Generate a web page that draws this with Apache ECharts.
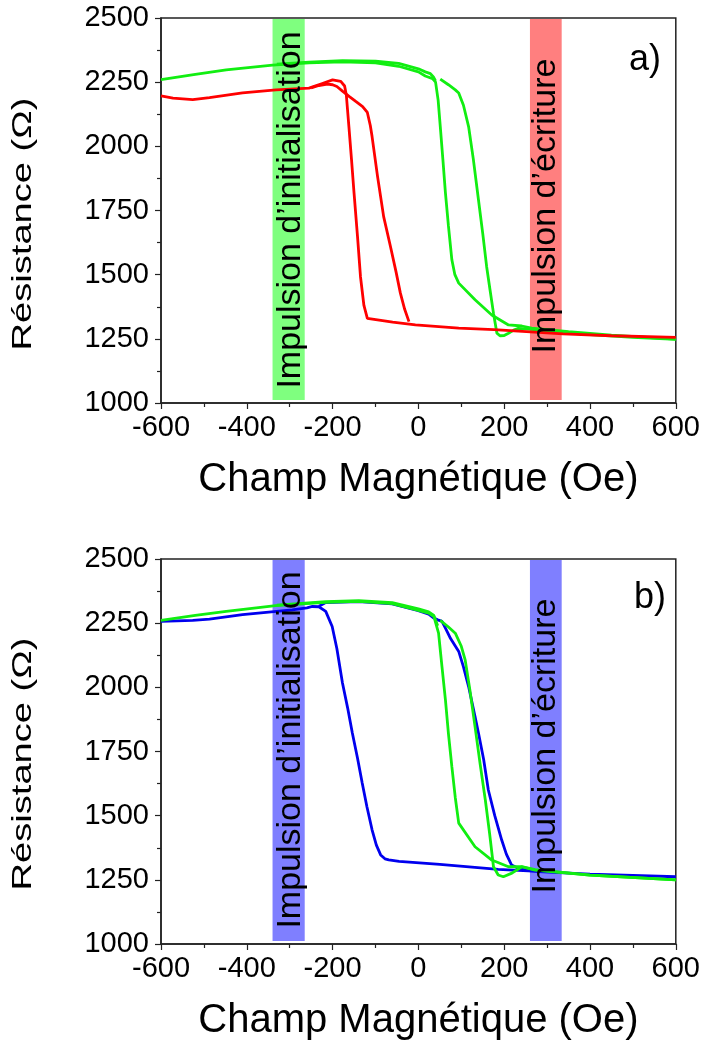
<!DOCTYPE html>
<html>
<head>
<meta charset="utf-8">
<script src="https://cdn.jsdelivr.net/npm/echarts@6/dist/echarts.min.js"></script>
<style>
html,body{margin:0;padding:0;background:#fff;}
#c{width:703px;height:1044px;}
</style>
</head>
<body>
<div id="c"></div>
<script>
// ---- Data (Champ Magnétique in Oe, Résistance in Ohm) ----
const xTicks = [-600, -400, -200, 0, 200, 400, 600];
const yTicks = [1000, 1250, 1500, 1750, 2000, 2250, 2500];

// Panel a)
const aGreen1 = [[-600,2260],[-520,2280],[-448,2298],[-340,2316],[-255,2325],[-177,2329],[-100,2325],[-46,2312],[0,2290],[16,2274],[33,2264],[40,2250],[46,2180],[51,2077],[57,1950],[63,1819],[70,1690],[78,1558],[85,1500],[94,1467],[132,1402],[171,1343],[210,1304],[241,1300],[264,1292],[350,1278],[450,1264],[600,1249]];
const aGreen2 = [[-330,2320],[-255,2328],[-177,2334],[-100,2332],[-46,2323],[0,2302],[16,2290],[28,2283],[35,2270],[40,2255]];
const aGreen3 = [[51,2262],[70,2240],[86,2220],[94,2208],[105,2160],[117,2077],[128,1950],[140,1792],[150,1660],[159,1532],[167,1440],[175,1350],[183,1272],[190,1262],[200,1263],[210,1272],[222,1284],[233,1291],[264,1287],[300,1279],[400,1266],[500,1256],[600,1248]];
const aRed1 = [[-600,2197],[-572,2188],[-526,2182],[-487,2190],[-410,2208],[-332,2220],[-255,2227],[-224,2245],[-200,2259],[-181,2253],[-172,2235],[-168,2200],[-162,2077],[-156,1950],[-150,1818],[-142,1650],[-135,1492],[-127,1380],[-119,1330],[-60,1315],[-7,1304],[94,1292],[176,1286],[337,1269],[450,1262],[600,1256]];
const aRed2 = [[-250,2228],[-232,2237],[-212,2242],[-200,2240],[-190,2233],[-177,2215],[-160,2193],[-146,2175],[-130,2155],[-119,2132],[-112,2080],[-108,2038],[-95,1880],[-81,1726],[-65,1609],[-52,1510],[-42,1428],[-32,1365],[-22,1317]];

// Panel b)
const bBlue1 = [[-600,2257],[-526,2261],[-487,2266],[-410,2283],[-294,2302],[-260,2310],[-247,2315],[-232,2314],[-216,2296],[-201,2237],[-190,2150],[-177,2017],[-165,1920],[-154,1822],[-142,1725],[-131,1627],[-120,1535],[-108,1445],[-98,1385],[-88,1347],[-78,1332],[-69,1328],[-45,1322],[50,1310],[186,1291],[256,1285],[279,1282],[400,1272],[600,1262]];
const bBlue2 = [[-232,2316],[-216,2330],[-139,2334],[-61,2325],[0,2299],[24,2285],[36,2270],[45,2263],[55,2257],[63,2231],[75,2190],[94,2140],[105,2080],[117,2003],[132,1886],[140,1822],[152,1720],[163,1600],[178,1500],[194,1406],[205,1350],[217,1308],[233,1295],[256,1287]];
const bGreen1 = [[-600,2261],[-520,2280],[-448,2296],[-333,2318],[-216,2331],[-139,2335],[-61,2326],[0,2300],[24,2289],[36,2276],[47,2211],[55,2080],[63,1951],[70,1820],[78,1691],[86,1570],[94,1471],[132,1379],[171,1327],[210,1301],[241,1301],[272,1288],[400,1268],[600,1250]];
const bGreen2 = [[-330,2320],[-216,2334],[-139,2338],[-61,2330],[0,2306],[24,2294],[36,2280],[45,2240]];
const bGreen3 = [[51,2261],[70,2235],[86,2211],[100,2160],[109,2107],[120,1990],[132,1847],[144,1700],[156,1561],[166,1430],[175,1301],[186,1269],[198,1262],[218,1276],[241,1301],[272,1290],[400,1268],[600,1250]];

// Pulse bands [xFrom, xTo]
const bandInit = [-340, -265];
const bandWrite = [260, 334];
const bandY = [1012, 2496];

// ---- Styles ----
const FONT = 'Liberation Sans, Arial, sans-serif';
const GREEN = '#11EE11', RED = '#FF0000', BLUE = '#0000EE';

function xAxis(gi){
  return {
    gridIndex: gi, type: 'value', min: -600, max: 600, interval: 200,
    name: 'Champ Magnétique (Oe)', nameLocation: 'middle', nameGap: 57,
    nameTextStyle: {fontFamily: FONT, fontSize: 40, color: '#000'},
    axisLine: {show: true, onZero: false, lineStyle: {color: '#222', width: 1.5}},
    axisTick: {show: true, inside: false, length: 6, lineStyle: {color: '#222', width: 1.2}},
    minorTick: {show: true, splitNumber: 2, length: 4, lineStyle: {color: '#222', width: 1.2}},
    splitLine: {show: false},
    axisLabel: {fontFamily: FONT, fontSize: 29, color: '#000', margin: 10, showMinLabel: true, showMaxLabel: true,
                formatter: v => String(v)}
  };
}
function yAxis(gi){
  return {
    gridIndex: gi, type: 'value', min: 1000, max: 2500, interval: 250,
    axisLine: {show: true, onZero: false, lineStyle: {color: '#222', width: 1.5}},
    axisTick: {show: true, inside: false, length: 6, lineStyle: {color: '#222', width: 1.2}},
    minorTick: {show: true, splitNumber: 2, length: 4, lineStyle: {color: '#222', width: 1.2}},
    splitLine: {show: false},
    axisLabel: {fontFamily: FONT, fontSize: 29, color: '#000', margin: 12, formatter: v => String(v)}
  };
}
function line(gi, data, color){
  return {
    type: 'line', xAxisIndex: gi, yAxisIndex: gi, data: data,
    showSymbol: false, symbol: 'none', smooth: false, z: 2,
    lineStyle: {color: color, width: 2.8}, silent: true
  };
}
function bands(gi, c1, c2){
  return {
    type: 'line', xAxisIndex: gi, yAxisIndex: gi, data: [], z: 4, silent: true,
    markArea: {
      silent: true,
      data: [
        [{xAxis: bandInit[0], yAxis: bandY[0], itemStyle: {color: c1}}, {xAxis: bandInit[1], yAxis: bandY[1]}],
        [{xAxis: bandWrite[0], yAxis: bandY[0], itemStyle: {color: c2}}, {xAxis: bandWrite[1], yAxis: bandY[1]}]
      ]
    }
  };
}
function vtext(x, y, txt, size, sx){
  return {
    type: 'text', x: x, y: y, rotation: Math.PI / 2, scaleX: sx || 1, z: 100,
    style: {text: txt, font: size + 'px ' + FONT, fill: '#000',
            align: 'center', verticalAlign: 'middle', textAlign: 'center', textVerticalAlign: 'middle'}
  };
}
function htext(x, y, txt, size){
  return {
    type: 'text', x: x, y: y, z: 100,
    style: {text: txt, font: size + 'px ' + FONT, fill: '#000',
            align: 'center', verticalAlign: 'middle', textAlign: 'center', textVerticalAlign: 'middle'}
  };
}

const chart = echarts.init(document.getElementById('c'), null, {renderer: 'canvas'});
chart.setOption({
  animation: false,
  backgroundColor: '#fff',
  grid: [
    {left: 161, right: 26, top: 18, height: 385, show: true, borderColor: '#222', borderWidth: 1.5, backgroundColor: 'transparent'},
    {left: 161, right: 26, top: 559, height: 385, show: true, borderColor: '#222', borderWidth: 1.5, backgroundColor: 'transparent'}
  ],
  xAxis: [xAxis(0), xAxis(1)],
  yAxis: [yAxis(0), yAxis(1)],
  series: [
    line(0, aGreen1, GREEN), line(0, aGreen2, GREEN), line(0, aGreen3, GREEN),
    line(0, aRed1, RED), line(0, aRed2, RED),
    bands(0, 'rgba(0,255,0,0.5)', 'rgba(255,0,0,0.5)'),
    line(1, bBlue1, BLUE), line(1, bBlue2, BLUE),
    line(1, bGreen1, GREEN), line(1, bGreen2, GREEN), line(1, bGreen3, GREEN),
    bands(1, 'rgba(0,0,255,0.5)', 'rgba(0,0,255,0.5)')
  ],
  graphic: [
    vtext(23, 224, 'Résistance (Ω)', 28, 1.36),
    vtext(23, 764, 'Résistance (Ω)', 28, 1.36),
    vtext(291, 210, 'Impulsion d’initialisation', 34),
    vtext(546, 206, 'Impulsion d’écriture', 34),
    vtext(291, 750, 'Impulsion d’initialisation', 34),
    vtext(546, 746, 'Impulsion d’écriture', 34),
    htext(645, 60, 'a)', 36),
    htext(650, 598, 'b)', 36)
  ]
});
</script>
</body>
</html>
